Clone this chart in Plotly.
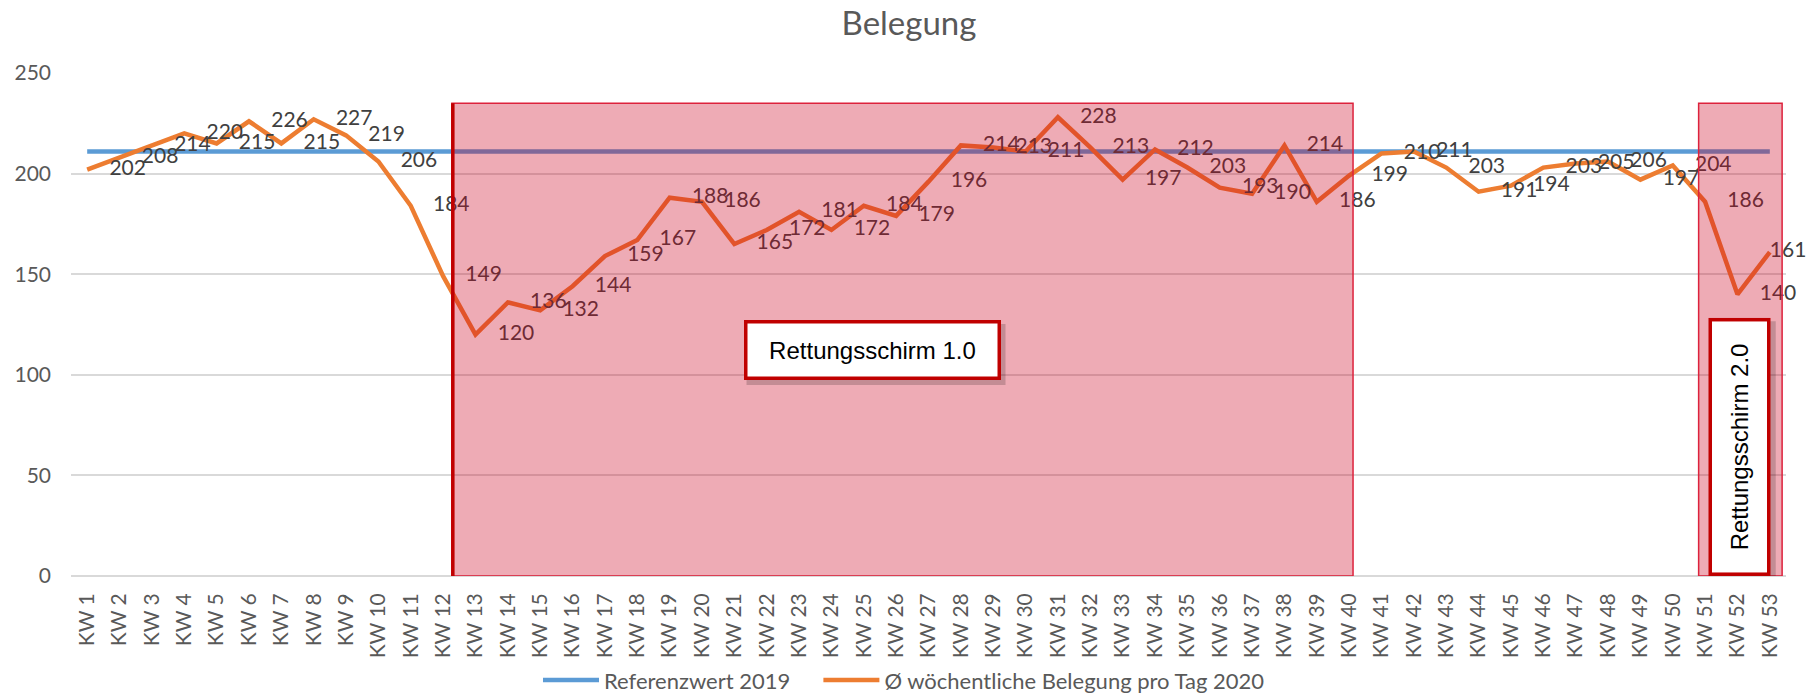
import plotly.graph_objects as go

# ---------------- data ----------------
wochen = [f"KW {i}" for i in range(1, 54)]

belegung_2020 = [202, 208, 214, 220, 215, 226, 215, 227, 219, 206,
                 184, 149, 120, 136, 132, 144, 159, 167, 188, 186,
                 165, 172, 181, 172, 184, 179, 196, 214, 213, 211,
                 228, 213, 197, 212, 203, 193, 190, 214, 186, 199,
                 210, 211, 203, 191, 194, 203, 205, 206, 197, 204,
                 186, 140, 161]

referenz_2019 = [211, 211, 211, 211, 211, 211, 211, 211, 211, 211,
                 211, 211, 211, 211, 211, 211, 211, 211, 211, 211,
                 211, 211, 211, 211, 211, 211, 211, 211, 211, 211,
                 211, 211, 211, 211, 211, 211, 211, 211, 211, 211,
                 211, 211, 211, 211, 211, 211, 211, 211, 211, 211,
                 211, 211, 211]

serie_namen = ["Referenzwert 2019", "Ø wöchentliche Belegung pro Tag 2020"]
titel = "Belegung"
schirm_texte = ["Rettungsschirm 1.0", "Rettungsschirm 2.0"]

# ---------------- styling ----------------
FONT = "Lato, 'Noto Sans', sans-serif"
GRAY = "#595959"
BLUE = "#5B9BD5"
ORANGE = "#ED7D31"
PINK = "rgba(204,0,30,0.33)"
EDGE = "rgb(221,34,60)"
DARKRED = "#C00000"

fig = go.Figure()

fig.add_trace(go.Scatter(
    x=wochen, y=referenz_2019, name=serie_namen[0], mode="lines",
    line=dict(color=BLUE, width=4.5), hoverinfo="skip", legend="legend"))

fig.add_trace(go.Scatter(
    x=wochen, y=belegung_2020, name=serie_namen[1], mode="lines",
    line=dict(color=ORANGE, width=4.5), legend="legend2"))

# data labels (right of each point)
labels = [str(v) for v in belegung_2020[:-1]] + [""]
fig.add_trace(go.Scatter(
    x=wochen, y=belegung_2020, mode="markers+text", showlegend=False,
    text=labels, textposition="middle right",
    textfont=dict(family=FONT, size=21, color="#404040"),
    marker=dict(size=34, color="rgba(0,0,0,0)"),
    cliponaxis=False, hoverinfo="skip"))

fig.add_trace(go.Scatter(
    x=[wochen[-1]], y=[belegung_2020[-1]], mode="text", showlegend=False,
    text=[str(belegung_2020[-1])], textposition="middle right",
    textfont=dict(family=FONT, size=21, color="#404040"),
    cliponaxis=False, hoverinfo="skip"))

shapes = [
    # Rettungsschirm 1.0 area
    dict(type="rect", xref="x", yref="y", x0=11.27, x1=39.12, y0=0, y1=235,
         fillcolor=PINK, line=dict(color=EDGE, width=1.5), layer="above"),
    dict(type="line", xref="x", yref="y", x0=11.3, x1=11.3, y0=0, y1=235,
         line=dict(color=DARKRED, width=3.5), layer="above"),
    # Rettungsschirm 2.0 area
    dict(type="rect", xref="x", yref="y", x0=49.8, x1=52.38, y0=0, y1=235,
         fillcolor=PINK, line=dict(color=EDGE, width=1.5), layer="above"),
    # box shadows
    dict(type="rect", xref="x", yref="y", xsizemode="pixel", ysizemode="pixel",
         xanchor=24.27, yanchor=112.3, x0=-126, x1=133, y0=-35, y1=26,
         fillcolor="rgba(0,0,0,0.18)", line=dict(width=0), layer="above"),
    dict(type="rect", xref="x", yref="y", xsizemode="pixel", ysizemode="pixel",
         xanchor=51.07, yanchor=64, x0=-29, x1=36, y0=-133, y1=126,
         fillcolor="rgba(0,0,0,0.18)", line=dict(width=0), layer="above"),
]

annotations = [
    dict(x=24.27, y=112.3, xref="x", yref="y", text=schirm_texte[0],
         showarrow=False, font=dict(family="'Liberation Sans', Arial", size=24, color="black"),
         bgcolor="white", bordercolor=DARKRED, borderwidth=3.5, borderpad=0,
         width=250, height=53, align="center", valign="middle"),
    dict(x=51.07, y=64, xref="x", yref="y", text=schirm_texte[1],
         showarrow=False, textangle=-90,
         font=dict(family="'Liberation Sans', Arial", size=24, color="black"),
         bgcolor="white", bordercolor=DARKRED, borderwidth=3.5, borderpad=0,
         width=251, height=55, align="center", valign="middle"),
]

legend_common = dict(orientation="h", xanchor="left", yref="container",
                     y=0.02, yanchor="middle", itemwidth=56,
                     font=dict(family=FONT, size=22, color=GRAY),
                     bgcolor="rgba(0,0,0,0)")

fig.update_layout(
    width=1818, height=694,
    margin=dict(l=71, r=32, t=73, b=118),
    paper_bgcolor="white", plot_bgcolor="white",
    title=dict(text=titel, x=0.5, xanchor="center", y=0.966, yanchor="middle",
               font=dict(family=FONT, size=33, color=GRAY)),
    font=dict(family=FONT, size=21, color=GRAY),
    showlegend=True,
    legend=dict(x=0.2723, **legend_common),
    legend2=dict(x=0.4358, **legend_common),
    shapes=shapes,
    annotations=annotations,
)

fig.update_xaxes(
    type="category", range=[-0.5, 52.5], tickangle=-90,
    showgrid=False, showline=False, zeroline=False, ticks="",
    ticklabelstandoff=12, automargin=False,
    tickfont=dict(family=FONT, size=21, color=GRAY))

fig.update_yaxes(
    range=[0, 250], dtick=50, tick0=0, showgrid=True, gridcolor="#D9D9D9",
    gridwidth=1.5, zeroline=True, zerolinecolor="#D9D9D9", zerolinewidth=1.5,
    showline=False, ticks="", ticklabelstandoff=19, automargin=False,
    tickfont=dict(family=FONT, size=21, color=GRAY))

fig.write_html(
    "out.html",
    config={"displayModeBar": False},
    post_script="document.body.style.margin='0';document.body.style.padding='0';",
)
